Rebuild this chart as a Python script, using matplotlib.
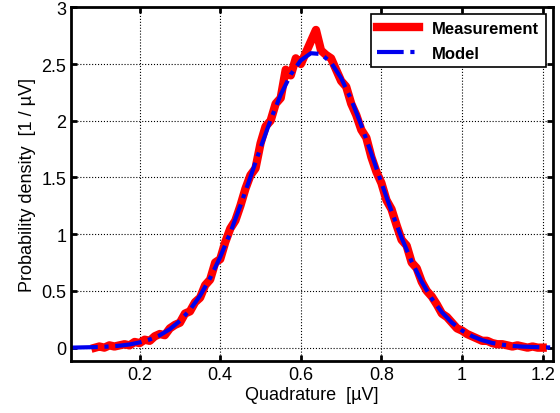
import matplotlib
matplotlib.use("Agg")
import matplotlib.pyplot as plt

plt.rcParams['font.family'] = ['Liberation Sans', 'DejaVu Sans']

model_x = [0.03, 0.08, 0.10, 0.125, 0.15, 0.175, 0.2, 0.225, 0.25, 0.275, 0.3, 0.325, 0.35, 0.375,
           0.4, 0.425, 0.45, 0.475, 0.5, 0.525, 0.55, 0.575, 0.6, 0.625, 0.65, 0.675, 0.7,
           0.725, 0.75, 0.775, 0.8, 0.825, 0.85, 0.875, 0.9, 0.925, 0.95, 0.975, 1.0,
           1.025, 1.05, 1.075, 1.1, 1.125, 1.15, 1.2, 1.225]
model_y = [0.0, 0.004, 0.006, 0.010, 0.017, 0.028, 0.046, 0.072, 0.109, 0.163, 0.236, 0.334, 0.458, 0.614,
           0.799, 1.014, 1.252, 1.505, 1.762, 2.007, 2.229, 2.407, 2.533, 2.595, 2.588, 2.513, 2.376,
           2.187, 1.960, 1.710, 1.453, 1.202, 0.968, 0.759, 0.580, 0.431, 0.312, 0.220, 0.151,
           0.101, 0.066, 0.041, 0.026, 0.015, 0.009, 0.003, 0.001]

meas_x = [0.09, 0.10, 0.1125, 0.125, 0.1375, 0.15, 0.1625, 0.175, 0.1875, 0.2, 0.2125, 0.225, 0.2375,
          0.25, 0.2625, 0.275, 0.2875, 0.3, 0.3125, 0.325, 0.3375, 0.35, 0.3625, 0.375, 0.3875,
          0.4, 0.4125, 0.425, 0.4375, 0.45, 0.4625, 0.475, 0.4875, 0.5, 0.5125, 0.525, 0.5375,
          0.55, 0.5625, 0.575, 0.5875, 0.6, 0.6125, 0.625, 0.6375, 0.65, 0.6625, 0.675, 0.6875,
          0.7, 0.7125, 0.725, 0.7375, 0.75, 0.7625, 0.775, 0.7875, 0.8, 0.8125, 0.825, 0.8375,
          0.85, 0.8625, 0.875, 0.8875, 0.9, 0.9125, 0.925, 0.9375, 0.95, 0.9625, 0.975, 0.9875,
          1.0, 1.0125, 1.025, 1.0375, 1.05, 1.0625, 1.075, 1.0875, 1.1, 1.1125, 1.125, 1.1375,
          1.15, 1.1625, 1.175, 1.1875, 1.2]
meas_y = [0.00, 0.01, 0.00, 0.02, 0.01, 0.02, 0.03, 0.02, 0.05, 0.04, 0.07, 0.06, 0.10,
          0.12, 0.11, 0.17, 0.20, 0.22, 0.30, 0.32, 0.40, 0.44, 0.55, 0.60, 0.75,
          0.78, 0.93, 1.05, 1.12, 1.25, 1.40, 1.52, 1.58, 1.80, 1.95, 2.00, 2.15,
          2.20, 2.45, 2.40, 2.55, 2.50, 2.60, 2.70, 2.80, 2.62, 2.58, 2.55, 2.45,
          2.35, 2.30, 2.15, 2.05, 1.92, 1.85, 1.68, 1.55, 1.45, 1.30, 1.22, 1.08,
          0.95, 0.90, 0.75, 0.70, 0.58, 0.50, 0.45, 0.38, 0.30, 0.27, 0.22, 0.17,
          0.15, 0.12, 0.10, 0.08, 0.06, 0.06, 0.04, 0.03, 0.03, 0.02, 0.01, 0.02,
          0.01, 0.00, 0.01, 0.00, 0.00]

fig = plt.figure(figsize=(5.6, 4.14), dpi=100)
ax = fig.add_axes([0.127, 0.125, 0.86, 0.855])
ax.plot(meas_x, meas_y, color='red', lw=6, label='Measurement')
ax.plot(model_x, model_y, color='#0000ee', lw=3, ls='-.', label='Model')
ax.set_xlim(0.03, 1.225)
ax.set_ylim(-0.12, 3)
ax.set_xticks([0.2, 0.4, 0.6, 0.8, 1.0, 1.2])
ax.set_xticklabels(['0.2', '0.4', '0.6', '0.8', '1', '1.2'])
ax.set_yticks([0, 0.5, 1, 1.5, 2, 2.5, 3])
ax.set_yticklabels(['0', '0.5', '1', '1.5', '2', '2.5', '3'])
ax.grid(True, color='black', ls=':', lw=0.8)
for s in ax.spines.values():
    s.set_linewidth(2)
ax.tick_params(labelsize=13, width=2, direction='in', length=4, top=True, right=True)
ax.set_xlabel('Quadrature  [µV]', fontsize=13, labelpad=2)
ax.set_ylabel('Probability density  [1 / µV]', fontsize=13, labelpad=4)
leg = ax.legend(loc='upper right', prop={'weight': 'bold', 'size': 12}, fancybox=False,
                edgecolor='black', framealpha=1, borderaxespad=0.4, handlelength=2.5,
                labelspacing=0.6)
leg.get_frame().set_linewidth(1.2)
fig.savefig('out.png', dpi=100)
